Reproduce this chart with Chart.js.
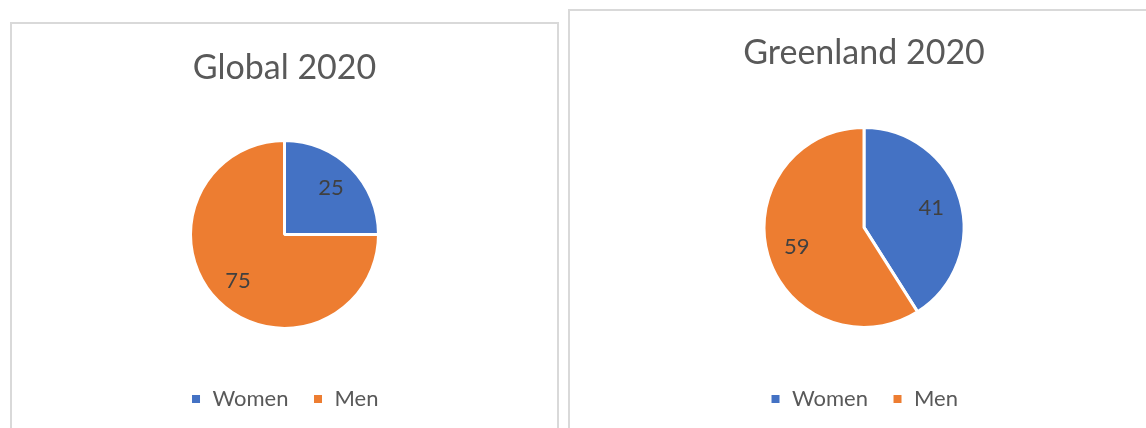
<!DOCTYPE html>
<html>
<head>
<meta charset="utf-8">
<script src="https://cdn.jsdelivr.net/npm/chart.js@4"></script>
<style>
  html, body { margin: 0; padding: 0; background: #fff; overflow: hidden; width: 1146px; height: 428px; }
  .panel { position: absolute; border: 2px solid #d9d9d9; box-sizing: border-box; background: #fff; }
  .box { position: relative; width: 100%; }
</style>
</head>
<body>
<div class="panel" style="left:10px; top:22px; width:549px; height:440px;">
  <div class="box" id="boxGlobal" style="height:396px;"><canvas id="chartGlobal"></canvas></div>
</div>
<div class="panel" style="left:568px; top:9px; width:592px; height:450px;">
  <div class="box" id="boxGreen" style="height:409px;"><canvas id="chartGreen"></canvas></div>
</div>
<script>
// data
const categories = ['Women', 'Men'];
const globalValues = [25, 75];
const greenlandValues = [41, 59];
const titles = ['Global 2020', 'Greenland 2020'];
const sliceColors = ['#4472C4', '#ED7D31'];

const FONT = 'Lato, "Open Sans", sans-serif';

// draw the numbers inside the slices
const sliceLabels = {
    id: 'sliceLabels',
    afterDatasetsDraw(chart) {
        const ctx = chart.ctx;
        const meta = chart.getDatasetMeta(0);
        const values = chart.data.datasets[0].data;
        ctx.save();
        ctx.font = '22px ' + FONT;
        ctx.fillStyle = '#404040';
        ctx.textAlign = 'center';
        ctx.textBaseline = 'middle';
        meta.data.forEach((arc, i) => {
            const p = arc.getProps(['x', 'y', 'startAngle', 'endAngle', 'outerRadius'], true);
            const mid = (p.startAngle + p.endAngle) / 2;
            const r = p.outerRadius * 0.7;
            ctx.fillText(String(values[i]), p.x + Math.cos(mid) * r, p.y + Math.sin(mid) * r);
        });
        ctx.restore();
    }
};

function makePie(id, title, values, radius, titlePad) {
    return new Chart(document.getElementById(id), {
        type: 'pie',
        data: {
            labels: categories,
            datasets: [{
                data: values,
                backgroundColor: sliceColors,
                borderColor: '#ffffff',
                borderWidth: 3,
                radius: radius
            }]
        },
        options: {
            responsive: true,
            maintainAspectRatio: false,
            animation: false,
            events: [],
            layout: { padding: 0 },
            plugins: {
                title: {
                    display: true,
                    text: title,
                    color: '#595959',
                    font: { family: FONT, size: 34, weight: 'normal', lineHeight: 1.2 },
                    padding: titlePad
                },
                legend: {
                    position: 'bottom',
                    labels: {
                        color: '#595959',
                        font: { family: FONT, size: 22 },
                        boxWidth: 11,
                        boxHeight: 11,
                        padding: 24
                    }
                },
                tooltip: { enabled: false }
            }
        },
        plugins: [sliceLabels]
    });
}

makePie('chartGlobal', titles[0], globalValues, 94, { top: 24, bottom: 16 });
makePie('chartGreen', titles[1], greenlandValues, 100, { top: 22, bottom: 17 });
</script>
</body>
</html>
